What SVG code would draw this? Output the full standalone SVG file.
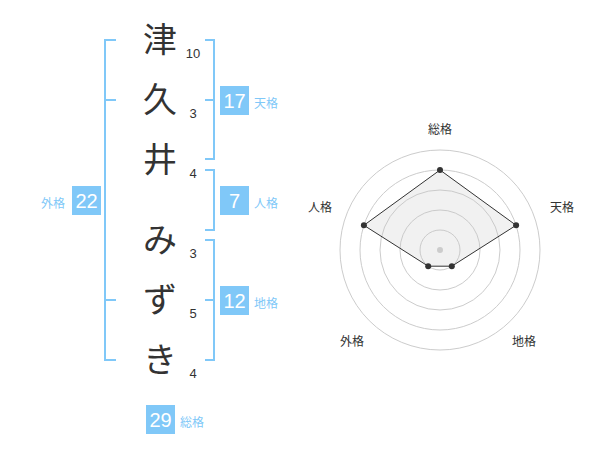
<svg xmlns="http://www.w3.org/2000/svg" width="600" height="470" viewBox="0 0 600 470">
<style>
.big{font-family:"Noto Sans CJK JP","Noto Sans CJK SC",sans-serif;font-size:34px;fill:#333;text-anchor:middle}
.num{font-family:"Liberation Sans",Arial,sans-serif;font-size:13px;fill:#333;text-anchor:middle}
.br{fill:none;stroke:#80c8f8;stroke-width:2}
.box{fill:#80c8f8}
.bn{font-family:"Liberation Sans",Arial,sans-serif;font-size:20px;fill:#fff;text-anchor:middle}
.lab{font-family:"Noto Sans CJK JP","Noto Sans CJK SC",sans-serif;font-size:12px;fill:#80c8f8}
.rl{font-family:"Noto Sans CJK JP","Noto Sans CJK SC",sans-serif;font-size:12px;fill:#333;text-anchor:middle}
.ring{fill:none;stroke:#ccc;stroke-width:1}
</style>
<rect width="600" height="470" fill="#fff"/>
<g id="chars">
<text class="big" x="160" y="52">津</text>
<text class="big" x="160" y="112">久</text>
<text class="big" x="160" y="172">井</text>
<text class="big" x="160" y="252">み</text>
<text class="big" x="160" y="312">ず</text>
<text class="big" x="160" y="372">き</text>
</g>
<g id="strokes">
<text class="num" x="193" y="58">10</text>
<text class="num" x="193" y="118">3</text>
<text class="num" x="193" y="178">4</text>
<text class="num" x="193" y="258">3</text>
<text class="num" x="193" y="318">5</text>
<text class="num" x="193" y="378">4</text>
</g>
<g id="connectors">
<path class="br" d="M205,40H214V159H205M205,100H214"/>
<path class="br" d="M205,170H214V230H205"/>
<path class="br" d="M205,240H214V360H205M205,300H214"/>
<path class="br" d="M116,40H105V360H116M105,100H116M105,300H116"/>
</g>
<g id="tenkaku">
<rect class="box" x="220" y="86" width="29" height="29"/>
<text class="bn" x="234.5" y="108">17</text>
<text class="lab" x="254" y="108">天格</text>
</g>
<g id="jinkaku">
<rect class="box" x="220" y="186" width="29" height="29"/>
<text class="bn" x="234.5" y="208">7</text>
<text class="lab" x="254" y="208">人格</text>
</g>
<g id="chikaku">
<rect class="box" x="220" y="286" width="29" height="29"/>
<text class="bn" x="234.5" y="308">12</text>
<text class="lab" x="254" y="308">地格</text>
</g>
<g id="gaikaku">
<rect class="box" x="72" y="186" width="29" height="29"/>
<text class="bn" x="86.5" y="208">22</text>
<text class="lab" x="41" y="208">外格</text>
</g>
<g id="soukaku">
<rect class="box" x="146" y="405" width="29" height="29"/>
<text class="bn" x="160.5" y="427">29</text>
<text class="lab" x="180" y="427">総格</text>
</g>
<g id="radar">
<circle class="ring" cx="440" cy="250" r="20"/>
<circle class="ring" cx="440" cy="250" r="40"/>
<circle class="ring" cx="440" cy="250" r="60"/>
<circle class="ring" cx="440" cy="250" r="80"/>
<circle class="ring" cx="440" cy="250" r="100"/>
<polygon points="440,170 516.1,225.3 451.8,266.2 428.2,266.2 363.9,225.3" fill="rgba(200,200,200,0.25)" stroke="#333" stroke-width="1"/>
<circle cx="440" cy="250" r="3" fill="#ccc"/>
<g fill="#333">
<circle cx="440" cy="170" r="3"/>
<circle cx="516.1" cy="225.3" r="3"/>
<circle cx="451.8" cy="266.2" r="3"/>
<circle cx="428.2" cy="266.2" r="3"/>
<circle cx="363.9" cy="225.3" r="3"/>
</g>
<text class="rl" x="440" y="134">総格</text>
<text class="rl" x="562" y="212">天格</text>
<text class="rl" x="320" y="212">人格</text>
<text class="rl" x="352" y="346">外格</text>
<text class="rl" x="524" y="346">地格</text>
</g>
</svg>
